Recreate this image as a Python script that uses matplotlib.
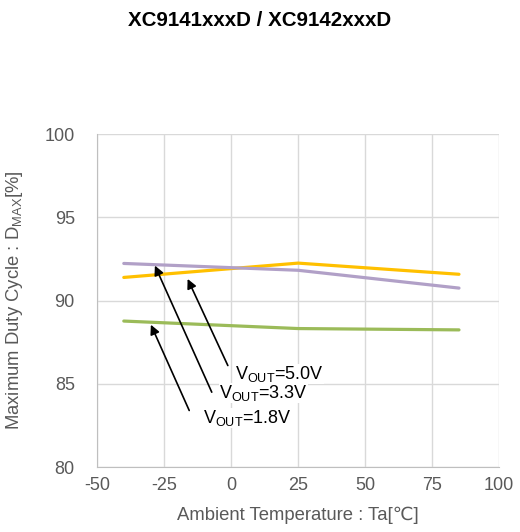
import matplotlib
matplotlib.use("Agg")
import matplotlib.pyplot as plt

plt.rcParams['font.family'] = ['Liberation Sans', 'DejaVu Sans']
plt.rcParams['axes.unicode_minus'] = False

# data
temps = [-40, 25, 85]
duty_50 = [91.39, 92.25, 91.58]   # VOUT=5.0V (yellow)
duty_33 = [92.23, 91.82, 90.75]   # VOUT=3.3V (purple)
duty_18 = [88.77, 88.32, 88.24]   # VOUT=1.8V (green)

xticks = [-50, -25, 0, 25, 50, 75, 100]
yticks = [80, 85, 90, 95, 100]

grey = '#595959'

fig = plt.figure(figsize=(5.2, 5.32), dpi=100)
ax = fig.add_axes([0.1865, 0.122, 0.7735, 0.626])

ax.plot(temps, duty_50, color='#FFC000', lw=2.3, solid_capstyle='round', zorder=3)
ax.plot(temps, duty_33, color='#B1A0C7', lw=2.3, solid_capstyle='round', zorder=3)
ax.plot(temps, duty_18, color='#9BBB59', lw=2.3, solid_capstyle='round', zorder=3)

ax.set_xlim(-50, 100)
ax.set_ylim(80, 100)
ax.set_xticks(xticks)
ax.set_yticks(yticks)
ax.grid(True, color='#d9d9d9', lw=1.0)
ax.set_axisbelow(True)
for s in ['top', 'right']:
    ax.spines[s].set_visible(False)
for s in ['left', 'bottom']:
    ax.spines[s].set_color('#bfbfbf')
ax.tick_params(length=0, labelsize=13, colors=grey)
ax.tick_params(axis='x', pad=7)
ax.tick_params(axis='y', pad=16)

ax.set_xlabel('Ambient Temperature : Ta[℃]', fontsize=13.3, color=grey, labelpad=9)
ax.set_ylabel(r'Maximum Duty Cycle : D$_{\mathregular{MAX}}$[%]', fontsize=13.3,
              color=grey, labelpad=14)

fig.text(0.5, 0.962, 'XC9141xxxD / XC9142xxxD', ha='center', va='center',
         fontsize=14.8, fontweight='bold', color='black')

box = dict(facecolor='white', edgecolor='none', pad=0)
arrow = dict(arrowstyle='-|>', color='black', lw=1.2, mutation_scale=14,
             shrinkA=0, shrinkB=0)
ax.annotate('', xy=(-16.2, 91.3), xytext=(-1.2, 86.1), arrowprops=arrow)
ax.annotate('', xy=(-28.4, 92.1), xytext=(-7.2, 84.5), arrowprops=arrow)
ax.annotate('', xy=(-29.9, 88.55), xytext=(-15.6, 83.4), arrowprops=arrow)

ax.text(1.5, 85.6, r'V$_{\mathregular{OUT}}$=5.0V', fontsize=13, ha='left',
        va='center', bbox=box, zorder=6)
ax.text(-4.5, 84.45, r'V$_{\mathregular{OUT}}$=3.3V', fontsize=13, ha='left',
        va='center', bbox=box, zorder=5)
ax.text(-10.5, 82.95, r'V$_{\mathregular{OUT}}$=1.8V', fontsize=13, ha='left',
        va='center', bbox=box, zorder=4)

fig.savefig('out.png', dpi=100)
